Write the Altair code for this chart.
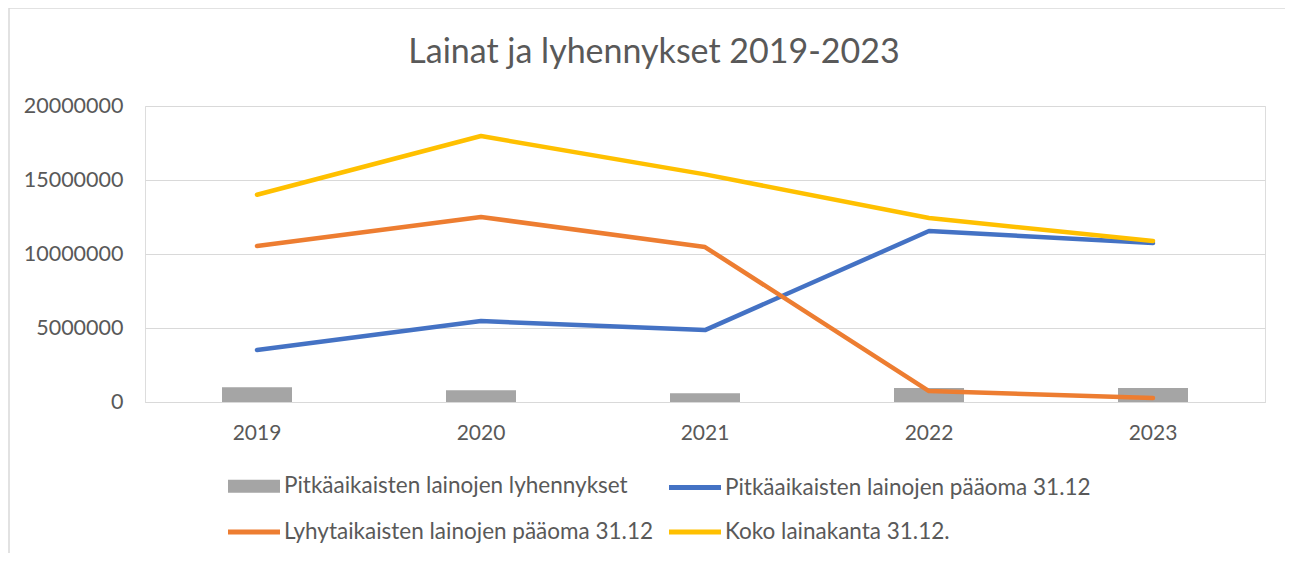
import altair as alt
import pandas as pd

years = ["2019", "2020", "2021", "2022", "2023"]
lyhennykset = [1000000, 790000, 590000, 950000, 950000]
pitka_paaoma = [3510000, 5470000, 4860000, 11550000, 10740000]
lyhyt_paaoma = [10540000, 12500000, 10470000, 740000, 270000]
koko_lainakanta = [14000000, 17970000, 15380000, 12430000, 10880000]

s_lyhennykset = "Pitkäaikaisten lainojen lyhennykset"
s_pitka = "Pitkäaikaisten lainojen pääoma 31.12"
s_lyhyt = "Lyhytaikaisten lainojen pääoma 31.12"
s_koko = "Koko lainakanta 31.12."

series = [s_lyhennykset, s_pitka, s_lyhyt, s_koko]
colors = ["#A5A5A5", "#4472C4", "#ED7D31", "#FFC000"]

bar_df = pd.DataFrame({"year": years, "value": lyhennykset, "series": s_lyhennykset})
line_rows = []
for name, vals in [(s_pitka, pitka_paaoma), (s_lyhyt, lyhyt_paaoma), (s_koko, koko_lainakanta)]:
    for y, v in zip(years, vals):
        line_rows.append({"year": y, "value": v, "series": name})
line_df = pd.DataFrame(line_rows)

FONT = "Lato"
TXT = "#595959"
GRID = "#D9D9D9"

W, H = 1120, 296
PL, PT = 137, 98

xscale = alt.Scale(domain=years, paddingInner=0.6875, paddingOuter=0.34375)
yscale = alt.Scale(domain=[0, 20000000])

xaxis = alt.Axis(title=None, labelFont=FONT, labelFontSize=21, labelColor=TXT,
                 labelPadding=20, ticks=False, domainColor=GRID, domainWidth=1,
                 grid=False, labelAngle=0)
yaxis = alt.Axis(title=None, labelFont=FONT, labelFontSize=21.5, labelColor=TXT,
                 labelPadding=22, ticks=False, domain=False, gridColor=GRID,
                 gridWidth=1, values=[0, 5000000, 10000000, 15000000, 20000000],
                 format="d")

bars = alt.Chart(bar_df).mark_bar(color=colors[0]).encode(
    x=alt.X("year:N", scale=xscale, axis=xaxis),
    y=alt.Y("value:Q", scale=yscale, axis=yaxis),
)

# legend swatches: a line stroke, and for the bars three stacked strokes forming a block
line_swatch = "M0,0H4"
bar_swatch = "M0,-0.3077H4M0,0H4M0,0.3077H4"
legend = alt.Legend(
    title=None, orient="none", legendX=67.5, legendY=364.5, columns=2,
    direction="horizontal", columnPadding=-14, rowPadding=16,
    symbolType=alt.ExprRef(
        expr=f"datum.value == '{s_lyhennykset}' ? '{bar_swatch}' : '{line_swatch}'"),
    symbolSize=676, symbolStrokeWidth=5,
    labelFont=FONT, labelFontSize=22.5, labelColor=TXT, labelOffset=40.5,
    labelLimit=0,
)

lines = alt.Chart(line_df).mark_line(strokeWidth=4.5, strokeCap="round",
                                     strokeJoin="round").encode(
    x=alt.X("year:N", scale=xscale, axis=xaxis),
    y=alt.Y("value:Q", scale=yscale, axis=yaxis),
    color=alt.Color("series:N", scale=alt.Scale(domain=series, range=colors),
                    legend=legend),
)

frame = alt.Chart(bar_df.head(1)).mark_rect(fill=None, stroke=GRID, strokeWidth=1.5).encode(
    x=alt.value(-PL + 1), x2=alt.value(W + 200), y=alt.value(-PT), y2=alt.value(H + 300)
)

chart = alt.layer(frame, bars, lines).properties(
    width=W, height=H,
    title=alt.TitleParams("Lainat ja lyhennykset 2019-2023", font=FONT, fontSize=34,
                          fontWeight=400, color=TXT, anchor="middle", dx=-51,
                          baseline="alphabetic", offset=0, dy=90),
    autosize=alt.AutoSizeParams(type="none"),
    padding={"left": PL, "top": PT, "right": 1277 - PL - W, "bottom": 545 - PT - H},
).configure_view(stroke=None).configure(background="white")

chart.save("out.html", embed_options={"renderer": "svg", "actions": False})
